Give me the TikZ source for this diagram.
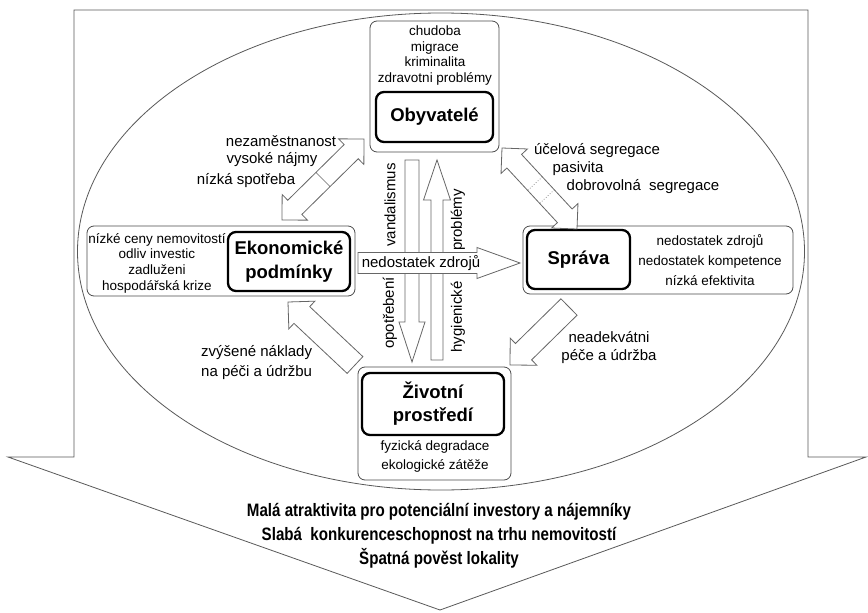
\documentclass[tikz,border=0pt]{standalone}
\usepackage{fontspec}
\setmainfont{Liberation Sans}
\newfontfamily\narrowfont[FakeStretch=0.84]{Liberation Sans}
\usetikzlibrary{calc}
\newcommand\fatarrow[6]{%
  \coordinate (fah) at ($(#2)!#5!(#1)$);
  \draw[#6] ($(#1)!#3!90:(#2)$) -- ($(fah)!#3!90:(#2)$) -- ($(fah)!#4!90:(#2)$) -- (#2)
    -- ($(fah)!#4!-90:(#2)$) -- ($(fah)!#3!-90:(#2)$) -- ($(#1)!#3!-90:(#2)$) -- cycle;}
\newcommand\fatdarrow[6]{%
  \coordinate (fha) at ($(#1)!#5!(#2)$);
  \coordinate (fhb) at ($(#2)!#5!(#1)$);
  \draw[#6] (#1) -- ($(fha)!#4!90:(#2)$) -- ($(fha)!#3!90:(#2)$) -- ($(fhb)!#3!90:(#2)$)
    -- ($(fhb)!#4!90:(#2)$) -- (#2) -- ($(fhb)!#4!-90:(#2)$) -- ($(fhb)!#3!-90:(#2)$)
    -- ($(fha)!#3!-90:(#2)$) -- ($(fha)!#4!-90:(#2)$) -- cycle;}
\begin{document}
\begin{tikzpicture}[x=1pt,y=-1pt,
  outline/.style={draw=black!65, line width=0.8pt, fill=white},
  outerbox/.style={draw=black!70, line width=0.8pt, rounded corners=7pt, fill=white, inner sep=0},
  mainbox/.style={draw=black, line width=2.3pt, rounded corners=8pt, fill=white, inner sep=0, align=center},
  bigtxt/.style={font=\fontsize{18.5}{24}\selectfont\bfseries},
  listtxt/.style={font=\fontsize{13.5}{15.7}\selectfont, align=center, inner sep=0},
  lbl/.style={font=\fontsize{15}{20}\selectfont, inner sep=0},
  fat/.style={draw=black!60, line width=0.8pt, fill=white, line join=miter},
  breakline/.style={draw=black!55, line width=0.7pt, dotted},
]
\useasboundingbox (0,0) rectangle (868,613);
% big arrow and ellipse
\draw[outline] (74,10) -- (808,10) -- (808,457) -- (866,457) -- (440,610) -- (8,457) -- (74,457) -- cycle;
\draw[outline] (441,251.5) ellipse [x radius=363.5pt, y radius=238.5pt];

% boxes
\node[outerbox, minimum width=129pt, minimum height=131pt] (obyO) at (434.5,86.5) {};
\node[mainbox, bigtxt, minimum width=117pt, minimum height=50pt] (oby) at (434.5,117) {Obyvatelé};
\node[listtxt] (obyL) at (435,55.5) {chudoba\\migrace\\kriminalita\\zdravotni problémy};

\node[outerbox, minimum width=268pt, minimum height=70pt] (ekoO) at (221,261) {};
\node[mainbox, font=\fontsize{18.5}{24}\selectfont\bfseries, minimum width=122pt, minimum height=59pt] (eko) at (289,261.5) {Ekonomické\\podmínky};
\node[listtxt] (ekoL) at (157,263) {nízké ceny nemovitostí\\odliv investic\\zadluženi\\hospodářská krize};

\node[outerbox, minimum width=270pt, minimum height=68pt] (sprO) at (658,260) {};
\node[mainbox, bigtxt, minimum width=103pt, minimum height=59pt] (spr) at (578.5,259.5) {Správa};
\node[listtxt, font=\fontsize{13.5}{20}\selectfont] (sprL) at (710,260) {nedostatek zdrojů\\nedostatek kompetence\\nízká efektivita};

\node[outerbox, minimum width=153pt, minimum height=113pt] (zivO) at (434.5,423.5) {};
\node[mainbox, font=\fontsize{18.5}{23}\selectfont\bfseries, minimum width=142pt, minimum height=62pt] (ziv) at (433,404) {Životní\\prostředí};
\node[listtxt, font=\fontsize{13.5}{19}\selectfont] (zivL) at (435,456.5) {fyzická degradace\\ekologické zátěže};

% vertical arrows
\coordinate (dnA) at (412,160);
\coordinate (dnB) at (412,362);
\coordinate (upA) at (437,360);
\coordinate (upB) at (437,160);
\fatarrow{dnA}{dnB}{7pt}{13pt}{40pt}{fat}
\fatarrow{upA}{upB}{6pt}{13.5pt}{40pt}{fat}
\node[lbl, rotate=90] (vand) at (390,205) {vandalismus};
\node[lbl, rotate=90] (opot) at (390,313) {opotřebení};
\node[lbl, rotate=90] (prob) at (458,220) {problémy};
\node[lbl, rotate=90] (hyg) at (458,317) {hygienické};

% horizontal arrow
\coordinate (hzA) at (358,263);
\coordinate (hzB) at (520,263);
\fatarrow{hzA}{hzB}{10.5pt}{15.5pt}{43pt}{fat}
\node[lbl] (nedz) at (421,263) {nedostatek\ zdrojů};

% diagonal arrows
\coordinate (tlA) at (282,220);
\coordinate (tlB) at (364,139);
\fatdarrow{tlA}{tlB}{10pt}{18pt}{18pt}{fat}
\draw[draw=black!60, line width=0.6pt] ($($(tlA)!.5!(tlB)$)!10pt!90:(tlB)$) -- ($($(tlA)!.5!(tlB)$)!10pt!-90:(tlB)$);

\coordinate (trA) at (502,148);
\coordinate (trB) at (577,229);
\fatdarrow{trA}{trB}{10pt}{18pt}{18pt}{fat}
\draw[breakline] ($($(trA)!.44!(trB)$)!10pt!90:(trB)$) -- ($($(trA)!.44!(trB)$)!10pt!-90:(trB)$);
\draw[breakline] ($($(trA)!.6!(trB)$)!10pt!90:(trB)$) -- ($($(trA)!.6!(trB)$)!10pt!-90:(trB)$);

\coordinate (blA) at (355,365);
\coordinate (blB) at (288,302);
\fatarrow{blA}{blB}{11.5pt}{19pt}{19pt}{fat}

\coordinate (brA) at (569,307);
\coordinate (brB) at (510,365);
\fatarrow{brA}{brB}{11.5pt}{19pt}{19pt}{fat}

% labels
\node[lbl] (l1) at (281,141) {nezaměstnanost};
\node[lbl] (l2) at (272,160) {vysoké nájmy};
\node[lbl] (l3) at (246,181) {nízká spotřeba};

\node[lbl] (r1) at (597,151) {účelová segregace};
\node[lbl] (r2) at (578,169) {pasivita};
\node[lbl] (r3) at (643,187) {dobrovolná\ \ segregace};

\node[lbl, anchor=west] (b1) at (201,353) {zvýšené náklady};
\node[lbl, anchor=west] (b2) at (201,373) {na péči a údržbu};

\node[lbl] (c1) at (609,337) {neadekvátni};
\node[lbl] (c2) at (609,357) {péče a údržba};

% result
\node[font=\narrowfont\fontsize{18}{24}\selectfont\bfseries, align=center, inner sep=0] (res) at (439,536)
  {Malá atraktivita pro potenciální investory a nájemníky\\Slabá\ \ konkurenceschopnost na trhu nemovitostí\\Špatná pověst lokality};
\end{tikzpicture}
\end{document}
